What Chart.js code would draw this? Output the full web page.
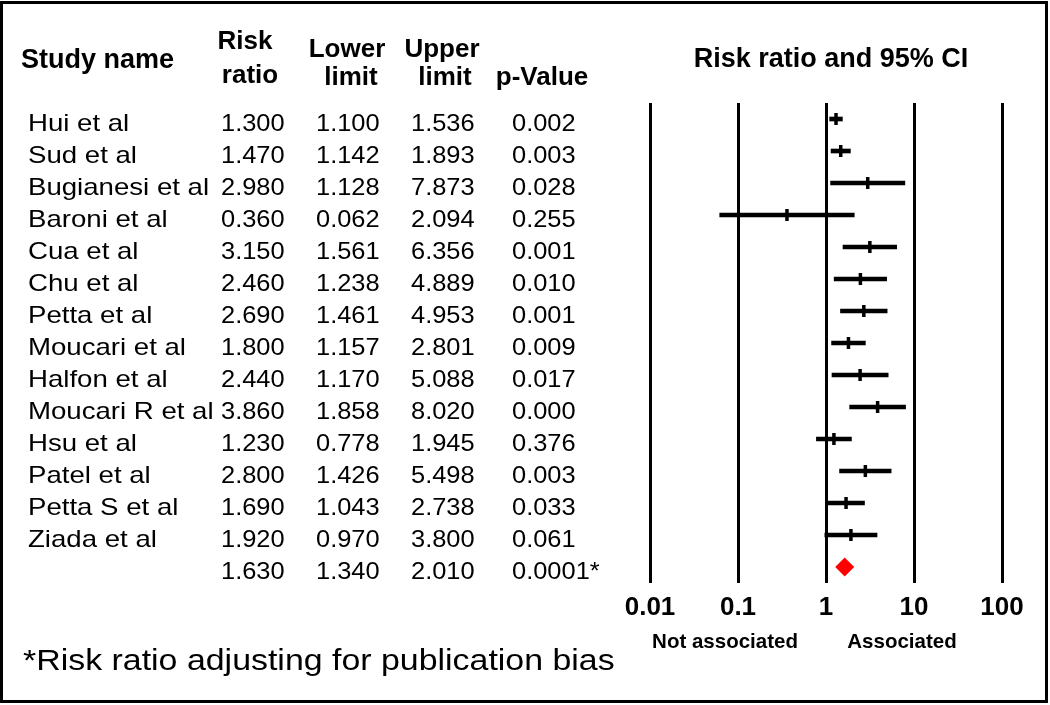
<!DOCTYPE html>
<html>
<head>
<meta charset="utf-8">
<script src="https://cdn.jsdelivr.net/npm/chart.js@4.4.1/dist/chart.umd.min.js"></script>
<style>
  html, body { margin: 0; padding: 0; background: #ffffff; }
  #wrap { width: 1050px; height: 705px; }
</style>
</head>
<body>
<div id="wrap"><canvas id="c" width="1050" height="705"></canvas></div>
<script>
// ---- data ----
const studyNames = ['Hui et al', 'Sud et al', 'Bugianesi et al', 'Baroni et al', 'Cua et al', 'Chu et al',
  'Petta et al', 'Moucari et al', 'Halfon et al', 'Moucari R et al', 'Hsu et al', 'Patel et al',
  'Petta S et al', 'Ziada et al'];
const riskRatio = [1.300, 1.470, 2.980, 0.360, 3.150, 2.460, 2.690, 1.800, 2.440, 3.860, 1.230, 2.800, 1.690, 1.920];
const lowerLimit = [1.100, 1.142, 1.128, 0.062, 1.561, 1.238, 1.461, 1.157, 1.170, 1.858, 0.778, 1.426, 1.043, 0.970];
const upperLimit = [1.536, 1.893, 7.873, 2.094, 6.356, 4.889, 4.953, 2.801, 5.088, 8.020, 1.945, 5.498, 2.738, 3.800];
const pValues = ['0.002', '0.003', '0.028', '0.255', '0.001', '0.010', '0.001', '0.009', '0.017', '0.000', '0.376', '0.003', '0.033', '0.061'];
const summaryRR = 1.630;
const summaryLower = 1.340;
const summaryUpper = 2.010;
const summaryP = '0.0001*';
const tickValues = [0.01, 0.1, 1, 10, 100];
const tickLabels = ['0.01', '0.1', '1', '10', '100'];
const rowLabels = studyNames.concat(['Summary']);

const FONT = '"Liberation Sans", Arial, Helvetica, sans-serif';

function drawText(ctx, str, x, y, font, align, sx) {
  ctx.save();
  ctx.font = font;
  ctx.fillStyle = '#000';
  ctx.textBaseline = 'alphabetic';
  ctx.textAlign = align;
  ctx.translate(x, y);
  ctx.scale(sx, 1);
  ctx.fillText(str, 0, 0);
  ctx.restore();
}

const framePlugin = {
  id: 'frame',
  beforeDraw(chart) {
    const ctx = chart.ctx;
    ctx.save();
    ctx.fillStyle = '#fff';
    ctx.fillRect(0, 0, chart.width, chart.height);
    ctx.strokeStyle = '#000';
    ctx.lineWidth = 3;
    ctx.strokeRect(1.5, 2.5, 1045, 699);
    ctx.restore();
  }
};

const tablePlugin = {
  id: 'table',
  afterDraw(chart) {
    const ctx = chart.ctx;
    const ys = chart.scales.y;
    const reg = '24px ' + FONT;
    const sx = 1.06;
    for (let i = 0; i < rowLabels.length; i++) {
      const yy = ys.getPixelForValue(i) + 12;
      if (i < studyNames.length) {
        drawText(ctx, studyNames[i], 28, yy, reg, 'left', 1.15);
        drawText(ctx, riskRatio[i].toFixed(3), 221, yy, reg, 'left', sx);
        drawText(ctx, lowerLimit[i].toFixed(3), 316, yy, reg, 'left', sx);
        drawText(ctx, upperLimit[i].toFixed(3), 411, yy, reg, 'left', sx);
        drawText(ctx, pValues[i], 512, yy, reg, 'left', sx);
      } else {
        drawText(ctx, summaryRR.toFixed(3), 221, yy, reg, 'left', sx);
        drawText(ctx, summaryLower.toFixed(3), 316, yy, reg, 'left', sx);
        drawText(ctx, summaryUpper.toFixed(3), 411, yy, reg, 'left', sx);
        drawText(ctx, summaryP, 512, yy, reg, 'left', sx);
      }
    }
    const bold = 'bold 26px ' + FONT;
    drawText(ctx, 'Study name', 21, 68, 'bold 27px ' + FONT, 'left', 1);
    drawText(ctx, 'Risk', 245, 49, bold, 'center', 1);
    drawText(ctx, 'ratio', 250, 83, bold, 'center', 1);
    drawText(ctx, 'Lower', 347, 57, bold, 'center', 1);
    drawText(ctx, 'limit', 351, 85, bold, 'center', 1);
    drawText(ctx, 'Upper', 442, 57, bold, 'center', 1);
    drawText(ctx, 'limit', 445, 85, bold, 'center', 1);
    drawText(ctx, 'p-Value', 542, 85, bold, 'center', 1);
    drawText(ctx, 'Risk ratio and 95% CI', 831, 67, 'bold 27px ' + FONT, 'center', 1);
    drawText(ctx, 'Not associated', 725, 648, 'bold 20.5px ' + FONT, 'center', 1);
    drawText(ctx, 'Associated', 902, 648, 'bold 20.5px ' + FONT, 'center', 1);
    drawText(ctx, '*Risk ratio adjusting for publication bias', 23, 670, '30px ' + FONT, 'left', 1.13);
  }
};

const ciData = lowerLimit.map((lo, i) => [lo, upperLimit[i]]);
const pointData = riskRatio.map((v, i) => ({ x: v, y: rowLabels[i] }));

new Chart(document.getElementById('c'), {
  type: 'bar',
  data: {
    labels: rowLabels,
    datasets: [
      {
        type: 'bar',
        indexAxis: 'y',
        data: ciData,
        backgroundColor: '#000',
        borderWidth: 0,
        barThickness: 4,
        xAxisID: 'x',
        yAxisID: 'y'
      },
      {
        type: 'scatter',
        data: pointData,
        pointStyle: 'line',
        rotation: 90,
        radius: 6,
        borderWidth: 3.5,
        borderColor: '#000',
        xAxisID: 'x',
        yAxisID: 'y'
      },
      {
        type: 'scatter',
        data: [{ x: summaryRR, y: rowLabels[studyNames.length] }],
        pointStyle: 'rectRot',
        radius: 9.5,
        backgroundColor: '#ff0000',
        borderColor: '#ff0000',
        borderWidth: 0,
        xAxisID: 'x',
        yAxisID: 'y'
      }
    ]
  },
  options: {
    responsive: false,
    animation: false,
    events: [],
    layout: { padding: { left: 650, right: 48, top: 103, bottom: 72.8 } },
    plugins: { legend: { display: false }, tooltip: { enabled: false }, title: { display: false } },
    scales: {
      x: {
        type: 'logarithmic',
        position: 'bottom',
        min: 0.01,
        max: 100,
        offset: false,
        afterBuildTicks(scale) { scale.ticks = tickValues.map(v => ({ value: v })); },
        ticks: {
          autoSkip: false,
          maxRotation: 0,
          padding: 9,
          color: '#000',
          font: { family: FONT, size: 26, weight: 'bold' },
          callback(value, index) { return tickLabels[index]; }
        },
        grid: { color: '#000', lineWidth: 3, drawTicks: false, drawOnChartArea: true, offset: false },
        border: { display: false }
      },
      y: {
        type: 'category',
        labels: rowLabels,
        offset: true,
        display: false,
        grid: { display: false, offset: true }
      }
    }
  },
  plugins: [framePlugin, tablePlugin]
});
</script>
</body>
</html>
